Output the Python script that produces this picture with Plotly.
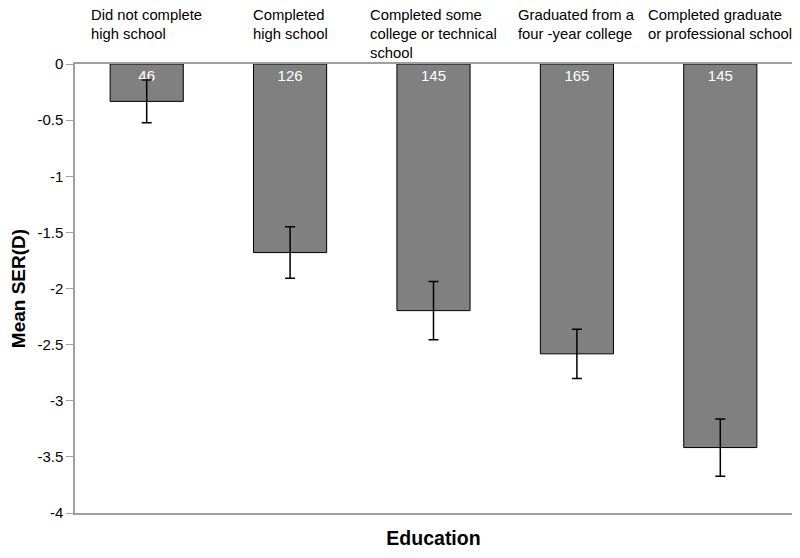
import plotly.graph_objects as go

categories = [
    "Did not complete<br>high school",
    "Completed<br>high school",
    "Completed some<br>college or technical<br>school",
    "Graduated from a<br>four -year college",
    "Completed graduate<br>or professional school",
]
mean_ser = [-0.333, -1.68, -2.197, -2.582, -3.417]
err = [0.19, 0.229, 0.26, 0.22, 0.255]
counts = ["46", "126", "145", "165", "145"]
ytick_vals = [0, -0.5, -1, -1.5, -2, -2.5, -3, -3.5, -4]
ytick_text = ["0", "-0.5", "-1", "-1.5", "-2", "-2.5", "-3", "-3.5", "-4"]

FONT = "Liberation Sans, Arial, sans-serif"
xs = list(range(len(categories)))

fig = go.Figure()
fig.add_trace(go.Bar(
    x=xs, y=mean_ser,
    marker=dict(color="#808080", line=dict(color="#000000", width=1)),
    error_y=dict(type="data", array=err, visible=True, color="#000000",
                 thickness=1.5, width=5),
    text=counts, textposition="inside", insidetextanchor="start",
    textfont=dict(color="white", size=15, family=FONT),
    cliponaxis=False,
))

for x, lab in zip(xs, categories):
    fig.add_annotation(
        x=x, xref="x", y=1, yref="paper", yanchor="top", xanchor="center",
        yshift=59, text=lab, showarrow=False, align="left",
        font=dict(size=14.8, family=FONT, color="#000000"),
    )

# page body adds an 8px offset, so the figure is sized/margined to compensate
fig.update_layout(
    width=792, height=550,
    margin=dict(l=67, r=8, t=56, b=45),
    paper_bgcolor="white", plot_bgcolor="white",
    bargap=0.49, showlegend=False,
    font=dict(family=FONT, color="#000000"),
)
fig.update_xaxes(
    range=[-0.5, 4.5], showticklabels=False, ticks="", automargin=False,
    showline=True, mirror=True, linecolor="#a0a0a0", linewidth=1.5,
    showgrid=False, zeroline=False,
    title=dict(text="<b>Education</b>", font=dict(size=19.5, family=FONT), standoff=18),
)
fig.update_yaxes(
    range=[-4, 0], tickvals=ytick_vals, ticktext=ytick_text, automargin=False,
    ticks="outside", ticklen=7, tickcolor="#a0a0a0",
    tickfont=dict(size=15, family=FONT),
    showline=True, mirror=True, linecolor="#a0a0a0", linewidth=1.5,
    showgrid=False, zeroline=False,
    title=dict(text="<b>Mean SER(D)</b>", font=dict(size=19, family=FONT), standoff=11),
)

fig.write_html("out.html")
